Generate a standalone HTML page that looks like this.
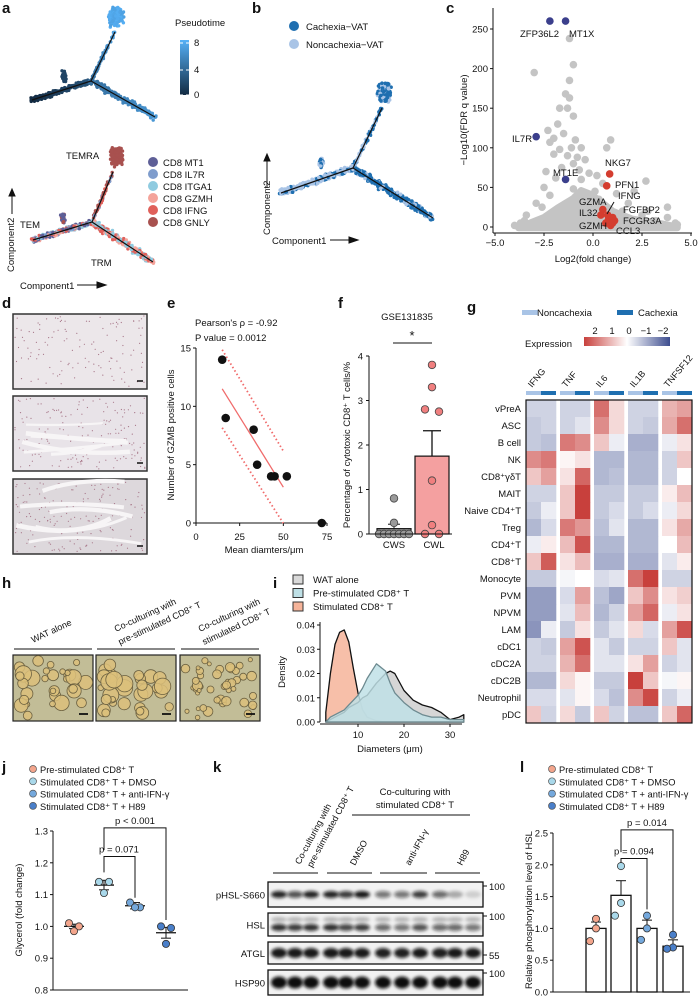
<!DOCTYPE html>
<html><head><meta charset="utf-8"><style>
html,body{margin:0;padding:0;background:#fff;}
svg{display:block;font-family:"Liberation Sans",Arial,sans-serif;}
</style></head><body>
<svg id="fig" xmlns="http://www.w3.org/2000/svg" width="698" height="996" viewBox="0 0 698 996">
<defs>
<linearGradient id="ptgrad" x1="0" y1="1" x2="0" y2="0"><stop offset="0" stop-color="#132b43"/><stop offset="1" stop-color="#56b1f7"/></linearGradient>
<linearGradient id="expgrad" x1="0" y1="0" x2="1" y2="0"><stop offset="0" stop-color="#c8403c"/><stop offset="0.5" stop-color="#ffffff"/><stop offset="1" stop-color="#3d4d8f"/></linearGradient>
<filter id="blur" x="-50%" y="-100%" width="200%" height="300%"><feGaussianBlur stdDeviation="1.6"/></filter>
</defs>
</svg>
<script>
// ---------- data ----------
const volcanoGray=[[-1.2,238],[-3.0,195],[-1.0,205],[-1.2,185],[-1.4,168],[-1.2,163],[-1.3,150],[-1.7,150],[-1.0,140],[-1.8,130],[-2.3,122],[-1.5,118],[-2.0,112],[-2.2,107],[-0.9,110],[-1.1,100],[-0.6,100],[-1.7,98],[-2.0,92],[-1.3,90],[-0.8,88],[-0.4,85],[-1.0,80],[-1.6,75],[-0.7,72],[-2.4,70],[-0.2,68],[-1.9,62],[0.2,65],[-0.6,60],[0.5,55],[2.7,58],[0.9,110],[0.7,100],[-2.5,50],[-1.0,48],[0.1,45],[2.1,45],[-2.9,30],[-3.4,15],[-3.7,5],[3.8,25],[3.8,12],[4.2,5],[4.3,3],[3.2,8],[2.5,15],[1.8,30],[1.5,20],[-2.6,25],[-4.0,2],[-3.0,5],[2.0,5],[3.0,3],[-3.5,8],[-2.2,40],[1.2,42],[0.3,35],[-0.5,30],[2.8,20]];
const volcanoBlob=[[-3.8,-1],[-3.3,4],[-2.5,12],[-1.8,24],[-1.0,36],[-0.6,46],[-0.2,42],[0.3,34],[1.0,20],[2,10],[3.5,4],[4.3,0],[4.3,-1]];
const volcanoRed=[[0.85,67],[0.7,52],[0.5,22],[0.4,15],[0.65,5],[0.8,10],[1.0,12],[1.1,8],[0.9,2],[0.75,15],[1.0,5]];
const volcanoBlue=[[-2.2,260],[-1.4,260],[-2.9,114],[-1.4,60]];
const eX=[15,17,33,35,43,45,52,72];
const eY=[14,9,8,5,4,4,4,0];
const fCWS=[0,0,0,0,0,0,0,0.25,0.8];
const fCWL=[3.8,3.3,2.8,2.75,1.2,0.2,0,0];
const fMeans=[0.12,1.75];
const fSE=[0.1,0.57];
const hmRows=["vPreA","ASC","B cell","NK","CD8\u207a\u03b3\u03b4T","MAIT","Naive CD4\u207aT","Treg","CD4\u207aT","CD8\u207aT","Monocyte","PVM","NPVM","LAM","cDC1","cDC2A","cDC2B","Neutrophil","pDC"];
const hmCols=["IFNG","TNF","IL6","IL1B","TNFSF12"];
const hmVals=[
[-0.5,-0.5,-0.5,-0.5,1.5,0.4,-0.5,-0.5,0.8,1.0],
[-0.6,-0.5,-0.5,-0.3,1.2,0.4,-0.5,-0.6,0.9,1.5],
[-0.6,-0.7,1.4,1.2,0.6,-0.2,-0.9,-0.9,-0.2,0.3],
[1.2,1.4,0.1,0.3,-0.8,-0.8,-0.8,-0.8,-0.5,0.6],
[0.6,1.0,0.3,1.6,-0.8,-0.7,-0.8,-0.8,-0.5,0],
[-0.5,-0.5,0.6,2.0,-0.6,-0.6,-0.6,-0.6,0.2,0.7],
[-0.6,-0.2,0.6,2.0,-0.6,-0.4,-0.6,-0.4,-0.2,0.4],
[-0.8,-0.4,1.4,1.1,-0.7,-0.3,-0.8,-0.8,0.3,0.9],
[-0.2,0.2,0.7,1.8,-0.8,-0.8,-0.8,-0.8,0,0.7],
[0.6,1.7,0.3,0.7,-0.9,-0.9,-0.9,-0.9,-0.3,0.2],
[-0.6,-0.6,-0.1,0,-0.4,-0.3,1.5,2.0,-0.5,-0.5],
[-1.1,-1.1,-0.4,1.0,-0.7,-1.0,0.6,1.2,0.3,0.5],
[-1.1,-1.1,-0.3,0.7,-0.8,-0.5,1.0,1.6,-0.2,0.3],
[-1.2,-0.2,-0.6,0.3,-0.6,-0.3,0.4,-0.4,1.0,1.8],
[-0.5,-0.6,1.0,1.8,-0.3,-0.6,-0.5,-0.5,0.6,-0.3],
[-0.5,-0.5,0.8,1.5,-0.3,-0.3,0.3,1.0,-0.5,-0.3],
[-0.8,-0.8,0.4,0.1,-0.6,-0.6,2.0,0.6,-0.1,0.1],
[-0.4,-0.4,-0.3,0.1,-0.4,-0.7,1.2,1.9,-0.5,-0.2],
[0.6,-0.5,0.4,-0.6,0.6,-0.5,-0.7,-0.7,0.6,1.6]];
const iX=[3,4,5,6,7,8,9,10,11,12,14,16,17,18,20,22,24,26,28,30,32,33];
const iWAT=[0,0.001,0.002,0.003,0.004,0.006,0.007,0.008,0.010,0.011,0.016,0.020,0.021,0.020,0.013,0.009,0.007,0.006,0.004,0.001,0.002,0.003];
const iPre=[0,0.002,0.003,0.004,0.005,0.007,0.009,0.011,0.014,0.018,0.024,0.021,0.016,0.012,0.008,0.005,0.003,0.002,0.002,0.001,0.001,0.001];
const iStim=[0.004,0.02,0.032,0.037,0.038,0.033,0.022,0.012,0.005,0.002,0.0005,0,0,0,0,0,0,0,0,0,0,0];
const jGroups=["Pre-stimulated CD8\u207a T","Stimulated CD8\u207a T + DMSO","Stimulated CD8\u207a T + anti-IFN-\u03b3","Stimulated CD8\u207a T + H89"];
const jPts=[[1.01,1.0,0.985],[1.14,1.14,1.105],[1.075,1.06,1.06],[1.0,0.995,0.945]];
const jMean=[1.0,1.13,1.065,0.98];
const jSE=[0.007,0.015,0.01,0.017];
const lPts=[[1.15,1.0,0.8],[1.98,1.4,1.2],[1.2,1.0,0.82],[0.9,0.7,0.68]];
const lMean=[1.0,1.52,1.0,0.72];
const lSE=[0.1,0.23,0.13,0.1];
const kRows=["pHSL-S660","HSL","ATGL","HSP90"];
const kInt=[[0.9,0.7,0.9,0.9,0.8,0.95,0.55,0.55,0.8,0.6,0.3,0.15],[0.85,0.8,0.85,0.85,0.75,0.8,0.6,0.55,0.7,0.6,0.6,0.55],[0.95,0.95,0.95,0.95,0.95,0.95,0.92,0.92,0.95,0.92,0.95,0.95],[1,1,1,1,1,1,1,1,1,1,1,1]];
const kMW=["100","100","55","100"];
const jColors=["#f3a58c","#a9d8ea","#74a8dc","#4a7fc9"];

// ---------- helpers ----------
const NS="http://www.w3.org/2000/svg";
const S=document.getElementById('fig');
function mk(tag,a,name,parent){const e=document.createElementNS(NS,tag);for(const k in a)e.setAttribute(k,a[k]);


(parent||S).appendChild(e);return e;}
function tx(x,y,s,name,o){o=o||{};const a={x:x,y:y,'font-size':o.fs||9.5,fill:o.fill||'#111','text-anchor':o.a||'start'};
if(o.rot!==undefined)a.transform='rotate('+o.rot+' '+x+' '+y+')';if(o.fw)a['font-weight']=o.fw;
const e=mk('text',a,name);e.textContent=s;return e;}
function ln(x1,y1,x2,y2,name,o){o=o||{};return mk('line',{x1:x1,y1:y1,x2:x2,y2:y2,stroke:o.c||'#111','stroke-width':o.w||1,'stroke-dasharray':o.d||'none'},name);}
let seed=12345;function rnd(){seed=(seed*16807)%2147483647;return seed/2147483647;}
function gauss(){return (rnd()+rnd()+rnd()-1.5)/1.5;}
function lerpC(c1,c2,t){const p=c=>[1,3,5].map(i=>parseInt(c.substr(i,2),16));const a=p(c1),b=p(c2);return 'rgb('+a.map((v,i)=>Math.round(v+(b[i]-v)*t)).join(',')+')';}
function panel(l,x,y){tx(x,y,l,'panel-label-'+l,{fs:15,fw:'bold'});}

// ---------- panel labels ----------
panel('a',2,13);panel('b',252,13);panel('c',446,13);panel('d',2,308);panel('e',167,308);panel('f',338,308);
panel('g',467,312);panel('h',2,588);panel('i',273,588);panel('j',2,772);panel('k',213,772);panel('l',520,772);

// ---------- trajectories ----------
function traj(C,arms,r,name){
 arms.forEach(A=>{
  for(let i=0;i<A.n;i++){let t=rnd();let x,y;
   if(A.blob){x=A.to[0]+gauss()*A.rx;y=A.to[1]+gauss()*A.ry;}
   else{x=C[0]+(A.to[0]-C[0])*t+gauss()*A.s;y=C[1]+(A.to[1]-C[1])*t+gauss()*A.s;}
   mk('circle',{cx:x.toFixed(1),cy:y.toFixed(1),r:r,fill:A.col(t)},name+'-cell');}
 });
 arms.filter(A=>!A.blob).forEach(A=>ln(C[0],C[1],A.to[0],A.to[1],name+'-branch',{w:1.2}));
}
const pt=v=>lerpC('#132b43','#56b1f7',v/8);
traj([91,81],[
 {to:[115,32],n:60,s:1.8,col:t=>pt(4+3*t)},
 {to:[116,16],n:220,blob:1,rx:9,ry:12,col:t=>pt(7+t)},
 {to:[32,100],n:240,s:3.5,col:t=>pt(2.5-2.5*t)},
 {to:[64,76],n:45,blob:1,rx:3,ry:7,col:t=>pt(1.5)},
 {to:[155,117],n:240,s:4,col:t=>pt(4+2.5*t)}],1.7,'pseudotime-trajectory');
const cc=["#5e5f97","#7e9ccc","#8fcbe0","#f4a39a","#e0605a","#a8514f"];
const pick=arr=>()=>arr[Math.floor(rnd()*arr.length)];
traj([92,222],[
 {to:[113,172],n:60,s:1.8,col:pick([cc[5],cc[5],cc[4],cc[1]])},
 {to:[117,157],n:230,blob:1,rx:8,ry:11,col:()=>cc[5]},
 {to:[33,240],n:260,s:3.5,col:pick([cc[0],cc[1],cc[2],cc[4],cc[3],cc[0]])},
 {to:[63,218],n:40,blob:1,rx:3,ry:7,col:pick([cc[5],cc[0]])},
 {to:[153,262],n:280,s:4.5,col:pick([cc[4],cc[3],cc[2],cc[2],cc[4]])}],1.7,'subtype-trajectory');
tx(175,26,'Pseudotime','pseudotime-legend-title');
mk('rect',{x:180,y:40,width:9,height:55,fill:'url(#ptgrad)'},'pseudotime-colorbar');
[[8,43],[4,70],[0,95]].forEach(d=>{tx(194,d[1]+3,String(d[0]),'pseudotime-tick');ln(180,d[1],183,d[1],'pseudotime-tickmark',{c:'#fff'});ln(186,d[1],189,d[1],'pseudotime-tickmark',{c:'#fff'});});
["CD8 MT1","CD8 IL7R","CD8 ITGA1","CD8 GZMH","CD8 IFNG","CD8 GNLY"].forEach((s,i)=>{mk('circle',{cx:153,cy:162+i*12,r:5,fill:cc[i]},'subtype-legend-dot');tx(163,166+i*12,s,'subtype-legend-entry');});
tx(66,159,'TEMRA','temra-label');tx(20,228,'TEM','tem-label');tx(91,266,'TRM','trm-label');
tx(14,272,'Component2','a-y-axis-title',{rot:-90});
mk('path',{d:'M12,214 L12,190 M9,196 L12,189 L15,196 Z',stroke:'#111',fill:'#111'},'a-y-arrow');
tx(20,289,'Component1','a-x-axis-title');mk('path',{d:'M77,285 L104,285 M97,282 L106,285 L97,288 Z',stroke:'#111',fill:'#111'},'a-x-arrow');

// panel b
const bd='#1f6fb0',bl='#a9c4e6';
traj([353,168],[
 {to:[382,108],n:70,s:2,col:pick([bd,bl])},
 {to:[384,92],n:230,blob:1,rx:8,ry:12,col:pick([bd,bd,bl])},
 {to:[281,193],n:280,s:4,col:pick([bl,bl,bl,bd])},
 {to:[321,163],n:45,blob:1,rx:3,ry:7,col:pick([bl,bd])},
 {to:[433,218],n:300,s:4.5,col:pick([bd,bl,bd])}],1.8,'condition-trajectory');
mk('circle',{cx:294,cy:26,r:5,fill:bd},'cachexia-legend-dot');tx(306,30,'Cachexia\u2212VAT','cachexia-legend-entry');
mk('circle',{cx:294,cy:44,r:5,fill:bl},'noncachexia-legend-dot');tx(306,48,'Noncachexia\u2212VAT','noncachexia-legend-entry');
tx(270,235,'Component2','b-y-axis-title',{rot:-90});
mk('path',{d:'M267,188 L267,155 M264,161 L267,154 L270,161 Z',stroke:'#111',fill:'#111'},'b-y-arrow');
tx(272,244,'Component1','b-x-axis-title');mk('path',{d:'M330,240 L356,240 M349,237 L358,240 L349,243 Z',stroke:'#111',fill:'#111'},'b-x-arrow');

// ---------- panel c volcano ----------
const cx=v=>593+v*19.6, cy=v=>227-v*0.792;
mk('path',{d:'M'+volcanoBlob.map(p=>cx(p[0]).toFixed(1)+','+cy(p[1]).toFixed(1)).join(' L')+' Z',fill:'#c4c4c4',stroke:'#c4c4c4','stroke-width':7,'stroke-linejoin':'round'},'volcano-dense-cloud');
volcanoGray.forEach(p=>mk('circle',{cx:cx(p[0]),cy:cy(p[1]),r:3.8,fill:'#c4c4c4'},'volcano-point-gray'));
volcanoRed.forEach(p=>mk('circle',{cx:cx(p[0]),cy:cy(p[1]),r:3.8,fill:'#d43d2f'},'volcano-point-up'));
volcanoBlue.forEach(p=>mk('circle',{cx:cx(p[0]),cy:cy(p[1]),r:3.8,fill:'#3b3f8c'},'volcano-point-down'));
ln(493,8,493,233,'c-y-axis');ln(493,233,692,233,'c-x-axis');
[0,50,100,150,200,250].forEach(v=>{ln(490,cy(v),493,cy(v),'c-y-tick');tx(488,cy(v)+3.5,String(v),'c-y-tick-label',{a:'end'});});
[-5,-2.5,0,2.5,5].forEach(v=>{ln(cx(v),233,cx(v),236,'c-x-tick');tx(cx(v),246,(v<0?'\u2212':'')+Math.abs(v).toFixed(1),'c-x-tick-label',{a:'middle'});});
tx(593,262,'Log2(fold change)','c-x-axis-title',{a:'middle'});
tx(467,120,'\u2212Log10(FDR q value)','c-y-axis-title',{rot:-90,a:'middle'});
[['ZFP36L2',520,37],['MT1X',569,37],['IL7R',512,142],['MT1E',553,176],['NKG7',605,166],['PFN1',615,188],['IFNG',618,199],['GZMA',579,205],['FGFBP2',623,213],['IL32',579,216],['FCGR3A',623,224],['GZMH',579,229],['CCL3',616,234]].forEach(d=>tx(d[1],d[2],d[0],'gene-label',{fs:9.5}));
ln(614,202,607,214,'ifng-leader');

// ---------- panel d ----------
[[314,389],[396,471],[479,554]].forEach((r,i)=>{
 mk('rect',{x:13,y:r[0],width:134,height:r[1]-r[0],fill:['#ece7ea','#e8e3e8','#ddd8dc'][i],stroke:'#333','stroke-width':1.5},'ihc-image-'+(i+1));
 for(let k=0;k<(i==0?120:180);k++)mk('circle',{cx:(15+rnd()*130).toFixed(1),cy:(r[0]+2+rnd()*(r[1]-r[0]-4)).toFixed(1),r:0.6,fill:'#a8788a'},'ihc-nucleus');
 if(i>0)for(let k=0;k<6;k++){const y0=r[0]+8+rnd()*(r[1]-r[0]-16);mk('path',{d:'M'+(15+rnd()*40)+','+y0+' Q'+(70+rnd()*20)+','+(y0+(rnd()-0.5)*30)+' '+(100+rnd()*45)+','+(y0+(rnd()-0.5)*20),stroke:'#f7f5f6','stroke-width':2+rnd()*3,fill:'none'},'ihc-septum');}
 ln(137,r[1]-8,143,r[1]-8,'scale-bar',{w:1.5});
});

// ---------- panel e ----------
const ex=v=>196+v*131/75, ey=v=>523-v*175/15;
ln(196,348,196,523,'e-y-axis');ln(196,523,327,523,'e-x-axis');
[0,5,10,15].forEach(v=>{ln(193,ey(v),196,ey(v),'e-y-tick');tx(191,ey(v)+3.5,String(v),'e-y-tick-label',{a:'end'});});
[0,25,50,75].forEach(v=>{ln(ex(v),523,ex(v),526,'e-x-tick');tx(ex(v),540,String(v),'e-x-tick-label',{a:'middle'});});
tx(264,553,'Mean diamters/\u03bcm','e-x-axis-title',{a:'middle'});
tx(174,435,'Number of GZMB positive cells','e-y-axis-title',{rot:-90,a:'middle'});
tx(195,326,'Pearson\'s \u03c1 = -0.92','pearson-text');tx(195,341,'P value = 0.0012','pvalue-text');
{const n=7;let mx=0,my=0;for(let i=0;i<n;i++){mx+=eX[i];my+=eY[i];}mx/=n;my/=n;let sxy=0,sxx=0;for(let i=0;i<n;i++){sxy+=(eX[i]-mx)*(eY[i]-my);sxx+=(eX[i]-mx)**2;}
 const b=sxy/sxx,f=x=>my+b*(x-mx),band=x=>2.6+0.002*(x-mx)**2;
 ln(ex(15),ey(f(15)),ex(50),ey(f(50)),'regression-line',{c:'#f06b6b',w:1.3});
 ln(ex(15),ey(f(15)+band(15)),ex(50),ey(f(50)+band(50)),'ci-upper',{c:'#f06b6b',w:1.8,d:'1.5 2.5'});
 ln(ex(15),ey(f(15)-band(15)),ex(50),ey(f(50)-band(50)),'ci-lower',{c:'#f06b6b',w:1.8,d:'1.5 2.5'});}
eX.forEach((x,i)=>mk('circle',{cx:ex(x),cy:ey(eY[i]),r:4.3,fill:'#111'},'e-point'));

// ---------- panel f ----------
const fy=v=>534-v*178/4;
tx(407,320,'GSE131835','f-title',{a:'middle'});
[[394,fMeans[0],'#a0a0a0'],[432,fMeans[1],'#f4a0a0']].forEach((b,i)=>{mk('rect',{x:b[0]-17,y:fy(b[1]),width:34,height:534-fy(b[1]),fill:b[2],stroke:'#111','stroke-width':1.2},'f-bar-'+(i?'cwl':'cws'));});
ln(394,fy(fMeans[0]),394,fy(fMeans[0]+fSE[0]),'f-errorbar');ln(388,fy(fMeans[0]+fSE[0]),400,fy(fMeans[0]+fSE[0]),'f-errorcap');
ln(432,fy(fMeans[1]),432,fy(fMeans[1]+fSE[1]),'f-errorbar',{w:1.3});ln(423,fy(fMeans[1]+fSE[1]),441,fy(fMeans[1]+fSE[1]),'f-errorcap',{w:1.3});
const cwsOff=[-15,-10,-5,0,5,10,15,0,0],cwlOff=[0,0,-7,7,0,0,-7,7];
fCWS.forEach((v,i)=>mk('circle',{cx:394+cwsOff[i],cy:fy(v),r:3.8,fill:'#9a9a9a',stroke:'#444','stroke-width':0.8},'f-point-cws'));
fCWL.forEach((v,i)=>mk('circle',{cx:432+cwlOff[i],cy:fy(v),r:3.8,fill:'#f07f7f',stroke:'#444','stroke-width':0.8},'f-point-cwl'));
ln(369,356,369,534,'f-y-axis');ln(369,534,452,534,'f-x-axis');
[0,1,2,3,4].forEach(v=>{ln(366,fy(v),369,fy(v),'f-y-tick');tx(363,fy(v)+3.5,String(v),'f-y-tick-label',{a:'end'});});
tx(394,548,'CWS','f-x-label-cws',{a:'middle'});tx(434,548,'CWL','f-x-label-cwl',{a:'middle'});
ln(393,343,432,343,'f-sig-line');tx(412,340,'*','f-sig-star',{a:'middle',fs:13});
tx(350,445,'Percentage of cytotoxic CD8\u207a T cells/%','f-y-axis-title',{rot:-90,a:'middle'});

// ---------- panel g heatmap ----------
const gx=[526,560,594,628,662],cw=15,rh=17,hy0=400;
function hcol(v){v=Math.max(-2,Math.min(2,v));return v>=0?lerpC('#ffffff','#c8403c',v/2):lerpC('#ffffff','#3d4d8f',-v/2);}
mk('rect',{x:522,y:310,width:16,height:5,fill:bl},'noncachexia-swatch');tx(537,316,'Noncachexia','noncachexia-legend-label');
mk('rect',{x:617,y:310,width:16,height:5,fill:bd},'cachexia-swatch');tx(638,316,'Cachexia','cachexia-legend-label');
tx(525,347,'Expression','expression-legend-title');
mk('rect',{x:584,y:337,width:86,height:9,fill:'url(#expgrad)'},'expression-colorbar');
["2","1","0","\u22121","\u22122"].forEach((s,i)=>tx(595+i*17,334,s,'expression-tick',{a:'middle'}));
hmCols.forEach((c,g)=>{tx(gx[g]+6,388,c,'heatmap-column-label',{rot:-50,fs:9});
 mk('rect',{x:gx[g],y:391,width:cw,height:4,fill:bl},'group-strip-noncachexia');mk('rect',{x:gx[g]+cw,y:391,width:cw,height:4,fill:bd},'group-strip-cachexia');});
hmRows.forEach((r,i)=>{tx(521,hy0+i*rh+12,r,'heatmap-row-label',{a:'end',fs:9.5});
 hmVals[i].forEach((v,j)=>mk('rect',{x:gx[Math.floor(j/2)]+(j%2)*cw,y:hy0+i*rh,width:cw+0.3,height:rh+0.3,fill:hcol(v)},'heatmap-cell'));});
mk('rect',{x:526,y:hy0,width:166,height:rh*19,fill:'none',stroke:'#111','stroke-width':1.2},'heatmap-border');

// ---------- panel h ----------
[['WAT alone',''],['Co-culturing with','pre-stimulated CD8\u207a T'],['Co-culturing with','stimulated CD8\u207a T']].forEach((t,i)=>{
 const x0=[13,96,180][i];ln(x0+1,649,x0+79,649,'h-group-line');
 tx(x0+20,645-(t[1]?13:2),t[0],'h-column-label',{rot:-25,fs:9});if(t[1])tx(x0+24,645,t[1],'h-column-label',{rot:-25,fs:9});
 mk('rect',{x:x0,y:655,width:80,height:66,fill:'#c2bd97',stroke:'#222','stroke-width':1.2},'microscopy-image-'+(i+1));
 const n=[30,30,45][i];for(let k=0;k<n;k++){const r=(i==2?2:2.5)+rnd()*(i==2?3:6);mk('circle',{cx:(x0+r+rnd()*(80-2*r)).toFixed(1),cy:(655+r+rnd()*(66-2*r)).toFixed(1),r:r.toFixed(1),fill:'#dcc07a',stroke:'#6b6040','stroke-width':0.8,'fill-opacity':0.85},'lipid-droplet');}
 ln(x0+66,714,x0+75,714,'scale-bar',{w:1.8});
});

// ---------- panel i ----------
const ix=v=>312+v*4.6, iy=v=>722-v*2425;
[['WAT alone','#d9d9d9'],['Pre-stimulated CD8\u207a T','#bfe0e6'],['Stimulated CD8\u207a T','#f6b49a']].forEach((l,k)=>{mk('rect',{x:293,y:575+k*13.5,width:10,height:9,fill:l[1],stroke:'#333'},'i-legend-swatch');tx(313,583+k*13.5,l[0],'i-legend-entry');});
function dens(arr,fill,stroke,name){const d='M'+ix(iX[0])+','+iy(0)+' '+iX.map((x,i)=>'L'+ix(x).toFixed(1)+','+iy(arr[i]).toFixed(1)).join(' ')+' L'+ix(iX[iX.length-1])+','+iy(0)+' Z';
 mk('path',{d:d,fill:fill,'fill-opacity':0.85,stroke:stroke,'stroke-width':1.3,'stroke-linejoin':'round'},name);}
dens(iStim,'#f6b49a','#111','density-stimulated');dens(iWAT,'#cfcfcf','#111','density-wat-alone');dens(iPre,'#bfe0e6','#6d8a90','density-pre-stimulated');
ln(320,622,320,722,'i-y-axis');ln(320,724,462,724,'i-x-axis');
[0,0.01,0.02,0.03,0.04].forEach(v=>{ln(317,iy(v),320,iy(v),'i-y-tick');tx(315,iy(v)+3.5,v.toFixed(2),'i-y-tick-label',{a:'end'});});
[10,20,30].forEach(v=>{ln(ix(v),724,ix(v),727,'i-x-tick');tx(ix(v),738,String(v),'i-x-tick-label',{a:'middle'});});
tx(390,752,'Diameters (\u03bcm)','i-x-axis-title',{a:'middle'});
tx(285,672,'Density','i-y-axis-title',{rot:-90,a:'middle'});

// ---------- panel j ----------
function legend4(x,name){jGroups.forEach((g,i)=>{mk('circle',{cx:x,cy:769+i*12.3,r:3.5,fill:jColors[i],stroke:'#555','stroke-width':0.7},name+'-dot');tx(x+7,773+i*12.3,g,name+'-entry',{fs:9.3});});}
legend4(33,'j-legend');
const jx=[74,104,135,166],jy=v=>990-(v-0.8)*318;
ln(53,831,53,990,'j-y-axis');ln(53,990,188,990,'j-x-axis');
[0.8,0.9,1.0,1.1,1.2,1.3].forEach(v=>{ln(50,jy(v),53,jy(v),'j-y-tick');tx(48,jy(v)+3.5,v.toFixed(1),'j-y-tick-label',{a:'end'});});
tx(22,910,'Glycerol (fold change)','j-y-axis-title',{rot:-90,a:'middle'});
const joff=[-5,5,0];
jPts.forEach((g,i)=>{ln(jx[i]-10,jy(jMean[i]),jx[i]+10,jy(jMean[i]),'j-mean-line',{w:1.3});ln(jx[i],jy(jMean[i]-jSE[i]),jx[i],jy(jMean[i]+jSE[i]),'j-se-line');
 ln(jx[i]-5,jy(jMean[i]+jSE[i]),jx[i]+5,jy(jMean[i]+jSE[i]),'j-se-cap');ln(jx[i]-5,jy(jMean[i]-jSE[i]),jx[i]+5,jy(jMean[i]-jSE[i]),'j-se-cap');
 g.forEach((v,k)=>mk('circle',{cx:jx[i]+joff[k],cy:jy(v),r:3.6,fill:jColors[i],stroke:'#333','stroke-width':0.8},'j-point'));});
mk('path',{d:'M104,'+(jy(1.17))+' V'+jy(1.22)+' H135 V'+jy(1.09),fill:'none',stroke:'#111'},'j-bracket-071');tx(119,jy(1.22)-4,'p = 0.071','j-p-071',{a:'middle'});
mk('path',{d:'M104,'+(jy(1.24))+' V'+jy(1.31)+' H166 V'+jy(1.02),fill:'none',stroke:'#111'},'j-bracket-001');tx(135,jy(1.31)-4,'p < 0.001','j-p-001',{a:'middle'});

// ---------- panel k ----------
const lanes=[279,295,311,331,346,362,383,402,420,440,455,473];
const kBox=[[882,907],[913,936],[942,964],[970,995]];
tx(300,865,'Co-culturing with','k-label-pre',{rot:-62,fs:9});tx(312,868,'pre-stimulated CD8\u207a T','k-label-pre',{rot:-62,fs:9});
tx(415,795,'Co-culturing with','k-header',{a:'middle'});tx(415,808,'stimulated CD8\u207a T','k-header',{a:'middle'});
ln(352,815,470,815,'k-header-line');
[['DMSO',355],['anti-IFN-\u03b3',410],['H89',462]].forEach(d=>tx(d[1],866,d[0],'k-lane-group-label',{rot:-62,fs:9}));
[[273,318],[327,372],[380,427],[435,480]].forEach(s=>ln(s[0],873,s[1],873,'k-lane-group-line'));
kRows.forEach((r,i)=>{const b=kBox[i];mk('rect',{x:268,y:b[0],width:215,height:b[1]-b[0],fill:'#f2f2f2',stroke:'#111','stroke-width':1.3},'blot-'+r);
 tx(265,(b[0]+b[1])/2+4,r,'blot-label',{a:'end'});
 lanes.forEach((x,l)=>{const v=kInt[i][l];const cy=(b[0]+b[1])/2+(i==1?3:0);
  mk('ellipse',{cx:x,cy:cy,rx:8,ry:i==3?6:(i==2?5:3.5),fill:'#111','fill-opacity':v,filter:'url(#blur)'},'blot-band');
  if(i==1)mk('ellipse',{cx:x,cy:cy-8,rx:8,ry:2.5,fill:'#111','fill-opacity':0.25,filter:'url(#blur)'},'blot-band-upper');});
 const my=[886,916,955,973][i];ln(483,my,487,my,'mw-tick');tx(489,my+4,kMW[i],'mw-label');});

// ---------- panel l ----------
legend4(552,'l-legend');
const lx=[596,621,647,673],ly=v=>992-v*63.6;
ln(553,833,553,992,'l-y-axis');ln(553,992,690,992,'l-x-axis');
[0,0.5,1.0,1.5,2.0,2.5].forEach(v=>{ln(550,ly(v),553,ly(v),'l-y-tick');tx(548,ly(v)+3.5,v.toFixed(1),'l-y-tick-label',{a:'end'});});
tx(532,910,'Relative phosphorylation level of HSL','l-y-axis-title',{rot:-90,a:'middle'});
lMean.forEach((m,i)=>{mk('rect',{x:lx[i]-10,y:ly(m),width:20,height:992-ly(m),fill:'#fff',stroke:'#111','stroke-width':1.3},'l-bar');
 ln(lx[i],ly(m),lx[i],ly(m+lSE[i]),'l-errorbar');ln(lx[i]-5,ly(m+lSE[i]),lx[i]+5,ly(m+lSE[i]),'l-errorcap');
 lPts[i].forEach((v,k)=>mk('circle',{cx:lx[i]+[0,0,-6][k],cy:ly(v),r:3.6,fill:jColors[i],stroke:'#333','stroke-width':0.8},'l-point'));});
mk('path',{d:'M621,'+ly(2.03)+' V'+ly(2.1)+' H647 V'+ly(1.3),fill:'none',stroke:'#111'},'l-bracket-094');tx(634,ly(2.1)-4,'p = 0.094','l-p-094',{a:'middle'});
mk('path',{d:'M621,'+ly(2.2)+' V'+ly(2.55)+' H673 V'+ly(0.95),fill:'none',stroke:'#111'},'l-bracket-014');tx(647,ly(2.55)-4,'p = 0.014','l-p-014',{a:'middle'});
</script>
</body></html>
